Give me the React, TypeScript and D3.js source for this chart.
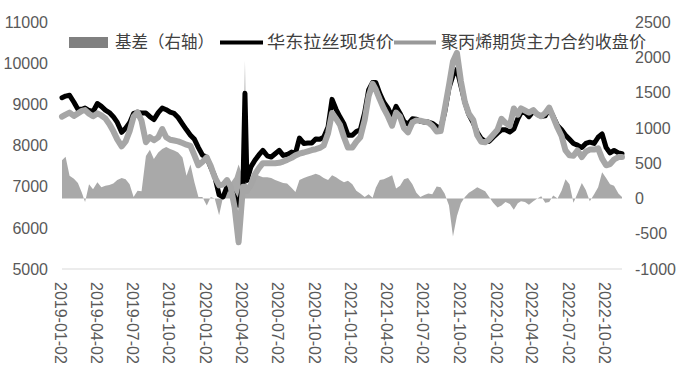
import React from "react";
import * as d3 from "d3";

const dates = [
  "2019-01-02","2019-01-11","2019-01-21","2019-02-01","2019-02-11","2019-02-21","2019-03-01","2019-03-11","2019-03-21",
  "2019-04-01","2019-04-11","2019-04-21","2019-05-01","2019-05-11","2019-05-21","2019-06-01","2019-06-11","2019-06-21",
  "2019-07-01","2019-07-11","2019-07-21","2019-08-01","2019-08-11","2019-08-21","2019-09-01","2019-09-11","2019-09-21",
  "2019-10-01","2019-10-11","2019-10-21","2019-11-01","2019-11-11","2019-11-21","2019-12-01","2019-12-11","2019-12-21",
  "2020-01-01","2020-01-11","2020-01-21","2020-02-01","2020-02-11","2020-02-21","2020-03-01","2020-03-11","2020-03-21",
  "2020-04-01","2020-04-06","2020-04-11","2020-04-21","2020-05-01","2020-05-11","2020-05-21","2020-06-01","2020-06-11","2020-06-21",
  "2020-07-01","2020-07-11","2020-07-21","2020-08-01","2020-08-11","2020-08-21","2020-09-01","2020-09-11","2020-09-21",
  "2020-10-01","2020-10-11","2020-10-21","2020-11-01","2020-11-11","2020-11-21","2020-12-01","2020-12-11","2020-12-21",
  "2021-01-01","2021-01-11","2021-01-21","2021-02-01","2021-02-11","2021-02-21","2021-03-01","2021-03-11","2021-03-21",
  "2021-04-01","2021-04-11","2021-04-21","2021-05-01","2021-05-11","2021-05-21","2021-06-01","2021-06-11","2021-06-21",
  "2021-07-01","2021-07-11","2021-07-21","2021-08-01","2021-08-11","2021-08-21","2021-09-01","2021-09-11","2021-09-21",
  "2021-10-01","2021-10-11","2021-10-21","2021-11-01","2021-11-11","2021-11-21","2021-12-01","2021-12-11","2021-12-21",
  "2022-01-01","2022-01-11","2022-01-21","2022-02-01","2022-02-11","2022-02-21","2022-03-01","2022-03-11","2022-03-21",
  "2022-04-01","2022-04-11","2022-04-21","2022-05-01","2022-05-11","2022-05-21","2022-06-01","2022-06-11","2022-06-21",
  "2022-07-01","2022-07-11","2022-07-21","2022-08-01","2022-08-11","2022-08-21","2022-09-01","2022-09-11","2022-09-21",
  "2022-10-01","2022-10-11","2022-10-21","2022-11-01","2022-11-10"
];

// 华东拉丝现货价
const spot = [
  9160,9200,9220,9050,8880,8880,8910,8850,8820,
  9020,8950,8860,8800,8700,8560,8320,8420,8550,
  8780,8800,8790,8790,8700,8630,8800,8910,8870,
  8810,8780,8680,8520,8380,8250,8150,7950,7770,
  7710,7470,7250,6800,6750,7000,6920,6750,6550,
  7000,9270,7150,7480,7640,7770,7880,7750,7720,7800,
  7880,7760,7780,7840,7810,8180,8050,8060,8060,
  8160,8150,8200,8450,9120,8880,8690,8520,8250,
  8250,8340,8380,8800,9350,9530,9530,9260,9050,
  8900,8690,8950,8780,8580,8520,8650,8640,8590,
  8570,8570,8540,8460,8420,8800,9400,9700,9850,
  9450,9050,8750,8550,8320,8170,8100,8100,8200,
  8300,8380,8380,8330,8400,8650,8800,8800,8700,
  8830,8760,8710,8720,8900,8700,8480,8380,8250,
  8150,8050,8010,7950,8050,8080,8050,8200,8280,
  7950,7820,7880,7820,7800
];

// 聚丙烯期货主力合约收盘价
const futures = [
  8700,8750,8800,8720,8780,8840,8860,8770,8710,
  8780,8730,8660,8520,8350,8150,7980,8100,8350,
  8700,8810,8600,8080,8200,8130,8200,8400,8200,
  8140,8120,8100,8060,8020,7990,7760,7520,7600,
  7710,7500,7230,7030,7050,7160,7000,6500,5650,
  7000,7000,6900,7050,7300,7450,7570,7570,7570,7570,
  7580,7610,7650,7700,7760,7800,7830,7860,7890,
  7910,7940,8000,8300,8790,8650,8500,8200,7950,
  7950,8090,8200,8620,9200,9500,9360,9120,8900,
  8700,8480,8800,8700,8420,8320,8560,8610,8600,
  8580,8560,8480,8340,8350,8870,9460,10040,10250,
  9560,9050,8770,8620,8250,8090,8080,8150,8260,
  8380,8650,8550,8480,8900,8750,8900,8850,8800,
  8860,8760,8710,8790,8920,8690,8430,8230,7880,
  7760,7750,7880,7720,7850,7900,7900,7930,7680,
  7520,7550,7660,7720,7720
];

// 基差（右轴）
const basis = [
  540,590,320,280,220,80,-50,200,130,
  230,160,180,190,210,260,290,270,200,
  20,110,100,600,690,560,650,700,730,
  700,680,650,580,320,480,230,20,20,
  -100,20,0,-240,20,150,220,300,480,
  300,1950,150,250,360,320,300,300,290,260,
  240,220,210,150,90,260,290,310,330,
  350,330,290,260,330,300,260,230,250,
  200,110,70,20,60,10,150,260,270,
  300,330,140,180,270,290,200,80,20,
  50,70,60,170,160,70,-100,-540,-250,
  -70,20,80,120,160,130,100,20,-60,
  -130,-100,-50,-80,-160,-70,-40,-50,-90,
  -40,0,30,-60,-50,40,0,110,270,
  200,-60,70,220,120,-40,60,160,370,
  290,200,180,70,20
];

const leftTicks = [5000, 6000, 7000, 8000, 9000, 10000, 11000];
const rightTicks = [-1000, -500, 0, 500, 1000, 1500, 2000, 2500];
const xTickLabels = [
  "2019-01-02","2019-04-02","2019-07-02","2019-10-02",
  "2020-01-02","2020-04-02","2020-07-02","2020-10-02",
  "2021-01-02","2021-04-02","2021-07-02","2021-10-02",
  "2022-01-02","2022-04-02","2022-07-02","2022-10-02"
];
const legendLabels = ["基差（右轴）", "华东拉丝现货价", "聚丙烯期货主力合约收盘价"];

const parse = d3.timeParse("%Y-%m-%d");

export default function App() {
  const W = 688, H = 377;
  const x = d3.scaleTime()
    .domain([parse("2019-01-02") as Date, parse("2022-11-10") as Date])
    .range([62, 622]);
  const yL = d3.scaleLinear().domain([5000, 11000]).range([269, 22]);
  const yR = d3.scaleLinear().domain([-1000, 2500]).range([269, 22]);

  const rows = dates.map((d, i) => ({
    date: parse(d) as Date,
    spot: spot[i],
    fut: futures[i],
    basis: basis[i],
  }));

  const area = d3.area<any>()
    .x((d) => x(d.date))
    .y0(yR(0))
    .y1((d) => yR(d.basis));
  const spotLine = d3.line<any>().x((d) => x(d.date)).y((d) => yL(d.spot));
  const futLine = d3.line<any>().x((d) => x(d.date)).y((d) => yL(d.fut));

  const numFont = "'Liberation Sans', Arial, sans-serif";
  const cjkFont = "'Noto Sans CJK SC', 'Liberation Sans', sans-serif";
  const tickColor = "#595959";

  return (
    <svg width={W} height={H} style={{ position: "absolute", left: 0, top: 0, background: "#fff" }}>
      <rect x={0} y={0} width={W} height={H} fill="#fff" />
      <line x1={62} x2={622} y1={yL(5000)} y2={yL(5000)} stroke="#d9d9d9" strokeWidth={1} />

      <path d={area(rows) || ""} fill="#a9a9a9" stroke="none" />
      <path d={spotLine(rows) || ""} fill="none" stroke="#000" strokeWidth={5} strokeLinejoin="round" strokeLinecap="round" />
      <path d={futLine(rows) || ""} fill="none" stroke="#a6a6a6" strokeWidth={6} strokeLinejoin="round" strokeLinecap="round" />

      {leftTicks.map((t) => (
        <text key={"l" + t} x={48} y={yL(t)} dy="0.36em" textAnchor="end" fontFamily={numFont} fontSize={16} fill={tickColor}>
          {t}
        </text>
      ))}
      {rightTicks.map((t) => (
        <text key={"r" + t} x={635} y={yR(t)} dy="0.36em" textAnchor="start" fontFamily={numFont} fontSize={16} fill={tickColor}>
          {t}
        </text>
      ))}
      {xTickLabels.map((s) => {
        const px = x(parse(s) as Date) - 1.5;
        return (
          <text key={s} transform={`translate(${px},282) rotate(90)`} dy="0.36em" textAnchor="start" fontFamily={numFont} fontSize={16} fill={tickColor}>
            {s}
          </text>
        );
      })}

      <rect x={69} y={37} width={39} height={11} fill="#808080" />
      <text x={115} y={42.5} dy="0.36em" fontFamily={cjkFont} fontSize={16.5} fill="#404040">{legendLabels[0]}</text>
      <line x1={220} x2={263} y1={42.5} y2={42.5} stroke="#000" strokeWidth={4} />
      <text x={267} y={42.5} dy="0.36em" fontFamily={cjkFont} fontSize={16.5} fill="#404040" textLength={127} lengthAdjust="spacingAndGlyphs">{legendLabels[1]}</text>
      <line x1={394} x2={436} y1={42.5} y2={42.5} stroke="#999" strokeWidth={4} />
      <text x={441} y={42.5} dy="0.36em" fontFamily={cjkFont} fontSize={16.5} fill="#404040" textLength={205} lengthAdjust="spacingAndGlyphs">{legendLabels[2]}</text>
    </svg>
  );
}
